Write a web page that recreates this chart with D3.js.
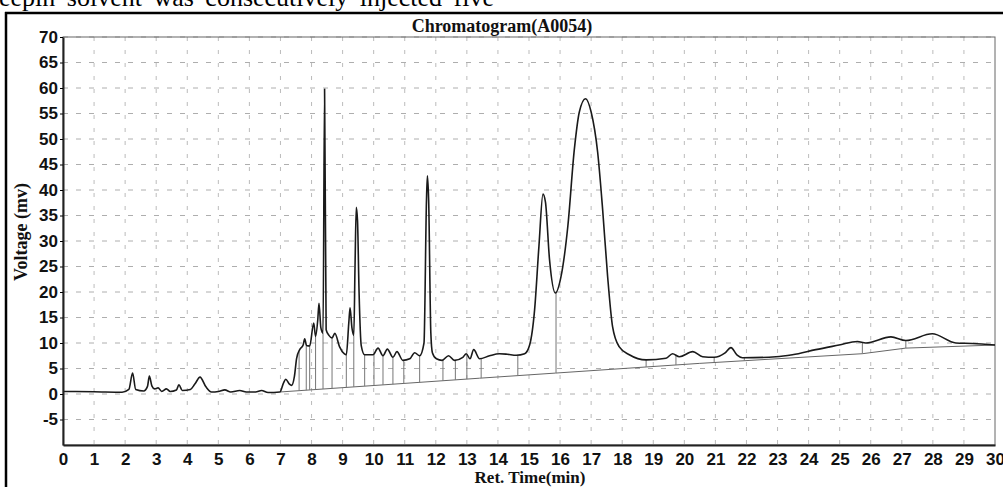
<!DOCTYPE html>
<html lang="en">
  <head>
    <meta charset="utf-8">
    <title>Chromatogram(A0054)</title>
    <script src="https://d3js.org/d3.v7.js"></script>
    <style>
    body {margin: 0; background: white; overflow: hidden;}
    .tick text {font-family: "Liberation Sans", Arial, sans-serif; font-weight: bold; font-size: 17px; fill: #111;}
    .label {font-family: "Liberation Serif", "Times New Roman", serif; font-weight: bold; font-size: 18px; fill: #111;}
    </style>
  </head>
  <body>
  <script>

  var w = 1003;
  var h = 487;
  var margin = {top: 37, right: 8, bottom: 42, left: 63};

  // trace: retention time (min) and voltage (mv)
  var retTime = [0, 1.0, 1.9, 2.12, 2.24, 2.34, 2.6, 2.72, 2.78, 2.86, 2.95, 3.06, 3.18, 3.33, 3.45, 3.65, 3.73, 3.84,
    4.1, 4.25, 4.41, 4.6, 4.78, 5.0, 5.21, 5.4, 5.69, 5.9, 6.2, 6.39, 6.6, 6.98, 7.1, 7.17, 7.28, 7.36, 7.45, 7.52,
    7.62, 7.73, 7.78, 7.84, 7.94, 8.07, 8.13, 8.2, 8.24, 8.3, 8.37, 8.42, 8.47, 8.56, 8.66, 8.75, 8.9, 9.05, 9.12,
    9.2, 9.24, 9.3, 9.36, 9.4, 9.44, 9.48, 9.53, 9.6, 9.71, 9.98, 10.14, 10.3, 10.44, 10.62, 10.75, 10.94, 11.16,
    11.32, 11.48, 11.62, 11.7, 11.73, 11.77, 11.84, 11.89, 12.02, 12.2, 12.41, 12.6, 12.87, 12.98, 13.1, 13.22,
    13.41, 13.73, 14.05, 14.3, 14.59, 14.86, 15.02, 15.18, 15.32, 15.45, 15.53, 15.66, 15.85, 16.03, 16.25, 16.46,
    16.62, 16.82, 17.0, 17.21, 17.37, 17.53, 17.69, 17.9, 18.23, 18.77, 19.41, 19.62, 19.84, 20.27, 20.59, 20.96,
    21.3, 21.5, 21.7, 21.87, 22.95, 23.48, 24.23, 24.98, 25.57, 25.84, 26.65, 27.13, 27.98, 28.74, 29.27, 30];
  var voltage = [0.5, 0.45, 0.35, 0.9, 4.1, 0.9, 0.6, 1.5, 3.5, 1.6, 1.0, 1.2, 0.5, 1.0, 0.5, 0.8, 1.8, 0.7,
    0.9, 2.0, 3.3, 1.4, 0.4, 0.5, 0.8, 0.4, 0.7, 0.4, 0.4, 0.7, 0.3, 0.4, 2.2, 2.9, 2.0, 1.7, 3.5, 7.0,
    8.7, 9.6, 10.8, 9.5, 9.4, 13.9, 11.3, 14.5, 17.8, 13.0, 11.9, 59.8, 12.6, 11.5, 11.0, 11.9, 9.3, 7.9, 7.7,
    14.0, 16.9, 13.0, 11.5, 25.0, 36.6, 34.0, 20.0, 9.5, 7.7, 7.7, 9.0, 7.5, 8.8, 7.2, 8.3, 6.6, 6.9,
    8.1, 7.5, 10.0, 38.0, 42.8, 38.0, 12.0, 8.1, 6.9, 6.6, 7.5, 6.6, 7.2, 7.9, 6.9, 8.7,
    6.9, 7.5, 7.9, 7.8, 7.6, 7.9, 9.6, 16.5, 29.0, 39.2, 37.6, 26.4, 19.8, 23.0, 32.9, 48.0,
    55.3, 57.9, 55.3, 47.4, 36.2, 23.1, 13.2, 9.3, 7.7, 6.7, 7.0, 7.9, 7.3, 8.3, 7.3, 7.2,
    8.0, 9.1, 7.6, 7.1, 7.3, 7.7, 8.7, 9.6, 10.3, 10.0, 11.2, 10.5, 11.8, 10.0, 9.9, 9.6];

  // integration baseline
  var baseTime = [7.0, 13.41, 15.85, 18.77, 20.48, 25.73, 27.13, 30];
  var baseVolt = [0.4, 3.1, 4.1, 5.3, 6.0, 7.9, 9.0, 9.6];

  // peak boundary drop lines
  var dropTimes = [7.6, 7.83, 7.94, 8.13, 8.37, 8.66, 9.12, 9.36, 9.71, 10.01, 10.3, 10.62, 10.97, 11.48,
    12.23, 12.63, 13.0, 13.46, 14.64, 15.87, 18.77, 19.73, 20.96, 21.93, 25.73, 27.13];

  var xTicks = d3.range(0, 31, 1);
  var yTicks = [-5, 0, 5, 10, 15, 20, 25, 30, 35, 40, 45, 50, 55, 60, 65, 70];

  var svg = d3.select("body")
      .append("svg")
      .attr("width", w)
      .attr("height", h);

  var xScale = d3.scaleLinear()
      .domain([0, 30])
      .range([margin.left, w - margin.right]);
  var yScale = d3.scaleLinear()
      .domain([-10, 70])
      .range([h - margin.bottom, margin.top]);

  // piecewise lookups for the drop lines
  var traceAt = d3.scaleLinear().domain(retTime).range(voltage);
  var baseAt = d3.scaleLinear().domain(baseTime).range(baseVolt).clamp(true);

  // page bits around the figure (clipped line of the paper's text)
  svg.append("text")
     .attr("x", -1)
     .attr("y", 6)
     .style("font-family", "Liberation Serif, serif")
     .style("font-size", "26px")
     .style("word-spacing", "5px")
     .text("eepin solvent was consecutively injected five");

  svg.append("line")
     .attr("x1", 5).attr("x2", w)
     .attr("y1", 13).attr("y2", 13)
     .attr("stroke", "#000").attr("stroke-width", 2.5);
  svg.append("line")
     .attr("x1", 6).attr("x2", 6)
     .attr("y1", 12).attr("y2", h)
     .attr("stroke", "#000").attr("stroke-width", 2.5);

  // grid
  svg.append("g")
     .selectAll("line")
     .data(yTicks)
     .join("line")
     .attr("x1", xScale(0)).attr("x2", xScale(30))
     .attr("y1", d => yScale(d)).attr("y2", d => yScale(d))
     .attr("stroke", "#999")
     .attr("stroke-dasharray", "5,8")
     .attr("stroke-width", 0.8);

  svg.append("g")
     .selectAll("line")
     .data(xTicks.slice(1, -1))
     .join("line")
     .attr("x1", d => xScale(d)).attr("x2", d => xScale(d))
     .attr("y1", yScale(70)).attr("y2", yScale(-10))
     .attr("stroke", "#aaa")
     .attr("stroke-dasharray", "4,9")
     .attr("stroke-width", 0.8);

  // frame
  svg.append("rect")
     .attr("x", xScale(0)).attr("y", yScale(70))
     .attr("width", xScale(30) - xScale(0))
     .attr("height", yScale(-10) - yScale(70))
     .attr("fill", "none")
     .attr("stroke", "#666")
     .attr("stroke-width", 1);

  // baseline and drop lines
  svg.append("path")
     .datum(d3.zip(baseTime, baseVolt))
     .attr("fill", "none")
     .attr("stroke", "#666")
     .attr("stroke-width", 1)
     .attr("d", d3.line().x(d => xScale(d[0])).y(d => yScale(d[1])));

  svg.append("g")
     .selectAll("line")
     .data(dropTimes)
     .join("line")
     .attr("x1", d => xScale(d)).attr("x2", d => xScale(d))
     .attr("y1", d => yScale(traceAt(d)))
     .attr("y2", d => yScale(baseAt(d)))
     .attr("stroke", "#777")
     .attr("stroke-width", 1);

  // trace
  svg.append("path")
     .datum(d3.zip(retTime, voltage))
     .attr("fill", "none")
     .attr("stroke", "#1a1a1a")
     .attr("stroke-width", 1.6)
     .attr("stroke-linejoin", "round")
     .attr("d", d3.line()
        .x(d => xScale(d[0]))
        .y(d => yScale(d[1]))
        .curve(d3.curveMonotoneX));

  // axes
  var yAxis = svg.append("g")
     .attr("transform", `translate(${xScale(0)},0)`)
     .call(d3.axisLeft(yScale).tickValues(yTicks).tickFormat(d => String(d))
        .tickSize(3).tickSizeOuter(0).tickPadding(2));
  yAxis.select(".domain").attr("stroke", "#222").attr("stroke-width", 2);

  var xAxis = svg.append("g")
     .attr("transform", `translate(0,${yScale(-10)})`)
     .call(d3.axisBottom(xScale).tickValues(xTicks).tickSize(0).tickSizeOuter(0).tickPadding(8));
  xAxis.select(".domain").attr("stroke", "#222").attr("stroke-width", 2);

  // labels
  svg.append("text")
     .attr("class", "label")
     .attr("x", 502)
     .attr("y", 32)
     .attr("text-anchor", "middle")
     .text("Chromatogram(A0054)");

  svg.append("text")
     .attr("class", "label")
     .attr("x", 530)
     .attr("y", 483)
     .attr("text-anchor", "middle")
     .style("font-size", "17px")
     .text("Ret. Time(min)");

  svg.append("text")
     .attr("class", "label")
     .attr("transform", "translate(27,232) rotate(-90)")
     .attr("text-anchor", "middle")
     .text("Voltage (mv)");

  </script>
  </body>
</html>
